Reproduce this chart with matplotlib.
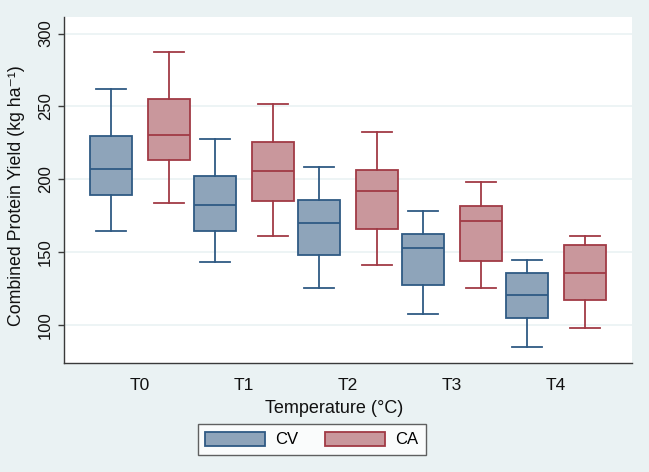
import matplotlib
matplotlib.use('Agg')
import matplotlib.pyplot as plt
from matplotlib.patches import Patch
import numpy as np

plt.rcParams['font.family'] = ['Liberation Sans', 'DejaVu Sans']

groups = ['T0', 'T1', 'T2', 'T3', 'T4']

# box stats: low whisker, Q1, median, Q3, high whisker
cv_low = [164.6, 143.6, 125.5, 107.9, 85.1]
cv_q1 = [189.5, 164.4, 148.4, 127.4, 104.8]
cv_med = [207.1, 182.2, 170.3, 152.9, 120.5]
cv_q3 = [229.7, 202.5, 185.8, 162.2, 135.6]
cv_high = [261.8, 227.4, 208.2, 178.1, 144.5]

ca_low = [184.0, 161.2, 141.1, 125.3, 97.7]
ca_q1 = [213.0, 184.9, 165.8, 144.0, 117.5]
ca_med = [230.3, 205.5, 192.2, 171.4, 135.6]
ca_q3 = [254.8, 225.3, 206.6, 181.9, 154.8]
ca_high = [287.7, 251.4, 232.4, 198.4, 161.2]

bg = '#eaf2f3'
cv_face, cv_edge = '#8ea4ba', '#2f5a84'
ca_face, ca_edge = '#c9979c', '#a13a45'


def make_stats(low, q1, med, q3, high):
    return [dict(whislo=a, q1=b, med=c, q3=d, whishi=e, fliers=[])
            for a, b, c, d, e in zip(low, q1, med, q3, high)]


fig = plt.figure(figsize=(6.49, 4.72), dpi=100, facecolor=bg)
ax = fig.add_axes([0.0991, 0.2316, 0.8742, 0.7324])
ax.set_facecolor('white')

x = np.arange(len(groups))
off = 0.279
w = 0.41

for stats, pos, face, edge in [
        (make_stats(cv_low, cv_q1, cv_med, cv_q3, cv_high), x - off, cv_face, cv_edge),
        (make_stats(ca_low, ca_q1, ca_med, ca_q3, ca_high), x + off, ca_face, ca_edge)]:
    ax.bxp(stats, positions=pos, widths=w, capwidths=0.28, patch_artist=True,
           showfliers=False, manage_ticks=False,
           boxprops=dict(facecolor=face, edgecolor=edge, linewidth=1.3),
           medianprops=dict(color=edge, linewidth=1.3),
           whiskerprops=dict(color=edge, linewidth=1.3),
           capprops=dict(color=edge, linewidth=1.3))

ax.set_xlim(-0.728, 4.728)
ax.set_ylim(74.2, 311.4)
ax.set_yticks([100, 150, 200, 250, 300])
ax.set_xticks(x)
ax.set_xticklabels(groups)
ax.grid(axis='y', color=bg, linewidth=1.2)
ax.set_axisbelow(True)

for s in ['top', 'right']:
    ax.spines[s].set_visible(False)
for s in ['left', 'bottom']:
    ax.spines[s].set_color('#3a3a3a')
    ax.spines[s].set_linewidth(1.0)

ax.tick_params(axis='x', length=0, pad=11, labelsize=12.5, colors='#111111')
ax.tick_params(axis='y', length=4, width=1, pad=4, labelsize=12, colors='#3a3a3a',
               labelcolor='#111111')
for lab in ax.get_yticklabels():
    lab.set_rotation(90)
    lab.set_va('center')

ax.set_xlabel('Temperature (°C)', fontsize=13, color='#111111')
ax.xaxis.set_label_coords(0.475, -0.108)
ax.set_ylabel('Combined Protein Yield (kg ha⁻¹)', fontsize=12.8, color='#111111')
ax.yaxis.set_label_coords(-0.069, 0.482)

handles = [Patch(facecolor=cv_face, edgecolor=cv_edge, linewidth=1.3, label='CV'),
           Patch(facecolor=ca_face, edgecolor=ca_edge, linewidth=1.3, label='CA')]
leg = fig.legend(handles=handles, loc='center', ncol=2,
                 bbox_to_anchor=(311.7 / 649, 1 - 439.5 / 472),
                 fontsize=12, frameon=True, fancybox=False,
                 handlelength=3.6, handleheight=0.95, handletextpad=0.6,
                 columnspacing=1.6, borderpad=0.45, borderaxespad=0)
leg.get_frame().set_edgecolor('#3a3a3a')
leg.get_frame().set_linewidth(1.0)
leg.get_frame().set_facecolor('white')

fig.savefig('out.png', dpi=100, facecolor=bg)
